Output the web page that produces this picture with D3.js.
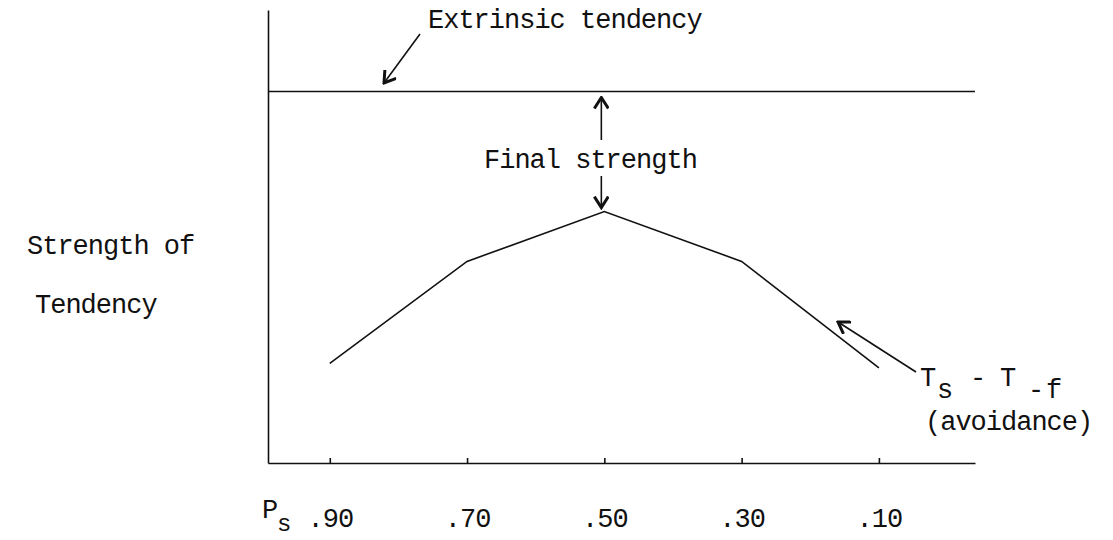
<!DOCTYPE html>
<html>
<head>
<meta charset="utf-8">
<script src="https://cdn.jsdelivr.net/npm/d3@7"></script>
<style>
  body { margin: 0; background: #fff; }
  text { font-family: "Courier New", "Liberation Mono", monospace; font-size: 27px; letter-spacing: -1px; fill: #111; }
  .domain, .tick line, .curve, .ref, .ann { stroke: #111; stroke-width: 1.6; fill: none; }
</style>
</head>
<body>
<svg width="1113" height="540"></svg>
<script>
// probability of success along the x axis
var probLabels = [".90", ".70", ".50", ".30", ".10"];
var probValues = [0.90, 0.70, 0.50, 0.30, 0.10];
// Ts - T-f (avoidance) curve
var avoidance = [22, 44.5, 55.5, 44.5, 21];
// extrinsic tendency, flat
var extrinsic = 82;

var svg = d3.select("svg");

var x = d3.scaleLinear().domain([0.99, -0.04]).range([268, 975]);
var y = d3.scaleLinear().domain([0, 100]).range([463, 10]);

// arrow heads
var defs = svg.append("defs");
defs.append("marker")
    .attr("id", "head")
    .attr("viewBox", "-12 -8 14 16")
    .attr("refX", 0).attr("refY", 0)
    .attr("markerWidth", 14).attr("markerHeight", 16)
    .attr("markerUnits", "userSpaceOnUse")
    .attr("orient", "auto")
    .append("path")
    .attr("d", "M-11,-7 L0,0 L-11,7")
    .attr("fill", "none").attr("stroke", "#111").attr("stroke-width", 3);

// axes
svg.append("g")
    .attr("transform", "translate(0," + y(0) + ")")
    .call(d3.axisBottom(x).tickValues(probValues).tickFormat(function(d, i) { return probLabels[i]; })
        .tickSizeInner(-5).tickSizeOuter(0).tickPadding(45))
    .call(function(g) {
        g.selectAll("text").attr("font-family", null).attr("font-size", null);
    });

svg.append("g")
    .attr("transform", "translate(" + x.range()[0] + ",0)")
    .call(d3.axisLeft(y).ticks(0).tickSizeOuter(0));

svg.selectAll(".tick line").attr("stroke", "#111");

// extrinsic tendency line
svg.append("line")
    .attr("class", "ref")
    .attr("x1", x.range()[0]).attr("x2", x.range()[1])
    .attr("y1", y(extrinsic)).attr("y2", y(extrinsic));

// avoidance curve
var line = d3.line()
    .x(function(d, i) { return x(probValues[i]); })
    .y(function(d) { return y(d); });

svg.append("path")
    .datum(avoidance)
    .attr("class", "curve")
    .attr("d", line);

// y label
svg.append("text").attr("x", 27).attr("y", 254).text("Strength of");
svg.append("text").attr("x", 35).attr("y", 313).text("Tendency");

// P_s
svg.append("text").attr("x", 262).attr("y", 518).text("P");
svg.append("text").attr("x", 277).attr("y", 531).style("font-size", "24px").text("s");

// extrinsic label + arrow
svg.append("text").attr("x", 428).attr("y", 28).text("Extrinsic tendency");
svg.append("line").attr("class", "ann")
    .attr("x1", 420).attr("y1", 34)
    .attr("x2", 384).attr("y2", 83)
    .attr("marker-end", "url(#head)");

// final strength double arrow
var fx = x(0.5) - 3;
svg.append("text").attr("x", 484).attr("y", 168).text("Final strength");
svg.append("line").attr("class", "ann")
    .attr("x1", fx).attr("y1", 140)
    .attr("x2", fx).attr("y2", y(extrinsic) + 6)
    .attr("marker-end", "url(#head)");
svg.append("line").attr("class", "ann")
    .attr("x1", fx).attr("y1", 176)
    .attr("x2", fx).attr("y2", y(d3.max(avoidance)) - 4)
    .attr("marker-end", "url(#head)");

// Ts - T-f label + arrow
var ts = svg.append("text").attr("x", 920).attr("y", 386);
ts.append("tspan").text("T");
ts.append("tspan").attr("x", 937).attr("dy", 12).text("s");
ts.append("tspan").attr("x", 970).attr("dy", -12).text("-");
ts.append("tspan").attr("x", 1000).text("T");
ts.append("tspan").attr("x", 1028).attr("dy", 12).text("-");
ts.append("tspan").attr("x", 1046).text("f");
svg.append("text").attr("x", 925).attr("y", 430).text("(avoidance)");
svg.append("line").attr("class", "ann")
    .attr("x1", 916).attr("y1", 372)
    .attr("x2", 838).attr("y2", 322)
    .attr("marker-end", "url(#head)");
</script>
</body>
</html>
